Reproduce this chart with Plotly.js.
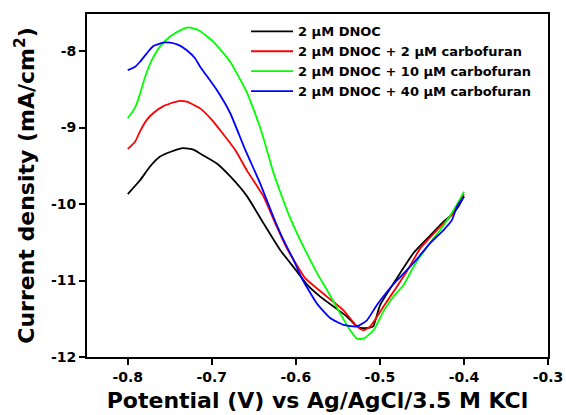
<!DOCTYPE html>
<html>
<head>
<meta charset="utf-8">
<script src="https://cdn.plot.ly/plotly-3.0.1.min.js"></script>
<style>html,body{margin:0;padding:0;background:#fff;}#chart{width:566px;height:415px;}</style>
</head>
<body>
<div id="chart"></div>
<script>
// Series names
const seriesNames = ["2 µM DNOC", "2 µM DNOC + 2 µM carbofuran", "2 µM DNOC + 10 µM carbofuran", "2 µM DNOC + 40 µM carbofuran"];
const seriesColors = ["#000000", "#ff0000", "#00ff00", "#0000ff"];

// Black: 2 µM DNOC
const blackX = [-0.8, -0.7854, -0.7735, -0.7615, -0.7496, -0.7338, -0.7219, -0.7139, -0.694, -0.678, -0.658, -0.6386, -0.6187, -0.5988, -0.587, -0.571, -0.5552, -0.5393, -0.5294, -0.5235, -0.5136, -0.508, -0.4997, -0.4798, -0.46, -0.44, -0.4243, -0.4143, -0.4064, -0.4];
const blackY = [-9.87, -9.69, -9.51, -9.38, -9.32, -9.27, -9.29, -9.34, -9.47, -9.64, -9.90, -10.25, -10.60, -10.88, -11.05, -11.21, -11.34, -11.47, -11.58, -11.62, -11.62, -11.60, -11.32, -10.97, -10.64, -10.41, -10.23, -10.14, -10.03, -9.90];

// Red: + 2 µM carbofuran
const redX = [-0.8, -0.7913, -0.7854, -0.7774, -0.7695, -0.7576, -0.7398, -0.7298, -0.7139, -0.70, -0.6723, -0.6583, -0.6386, -0.6226, -0.6107, -0.5988, -0.589, -0.5631, -0.5433, -0.5274, -0.5195, -0.5115, -0.4957, -0.4798, -0.4679, -0.452, -0.4321, -0.4143, -0.4064, -0.4];
const redY = [-9.28, -9.185, -9.05, -8.90, -8.81, -8.72, -8.654, -8.663, -8.75, -8.90, -9.29, -9.56, -9.90, -10.30, -10.58, -10.80, -10.97, -11.21, -11.39, -11.60, -11.65, -11.60, -11.34, -11.08, -10.88, -10.58, -10.34, -10.14, -9.99, -9.87];

// Green: + 10 µM carbofuran
const greenX = [-0.8, -0.7913, -0.7854, -0.7794, -0.7714, -0.7615, -0.7496, -0.7377, -0.7279, -0.716, -0.698, -0.6782, -0.6583, -0.6508, -0.6425, -0.6345, -0.627, -0.6187, -0.6092, -0.5988, -0.583, -0.5735, -0.5631, -0.5473, -0.5354, -0.5274, -0.5195, -0.5076, -0.4957, -0.4838, -0.4719, -0.46, -0.444, -0.4282, -0.4124, -0.4044, -0.4];
const greenY = [-8.88, -8.74, -8.56, -8.34, -8.12, -7.94, -7.81, -7.73, -7.69, -7.725, -7.88, -8.14, -8.54, -8.75, -9.00, -9.29, -9.58, -9.84, -10.12, -10.38, -10.73, -10.93, -11.12, -11.43, -11.65, -11.76, -11.76, -11.65, -11.40, -11.21, -11.06, -10.82, -10.56, -10.34, -10.08, -9.93, -9.84];

// Blue: + 40 µM carbofuran
const blueX = [-0.8, -0.7913, -0.7854, -0.7774, -0.7695, -0.7576, -0.7496, -0.7398, -0.7298, -0.7199, -0.7139, -0.694, -0.6782, -0.6603, -0.6425, -0.6267, -0.6148, -0.6028, -0.5929, -0.575, -0.5592, -0.5433, -0.5274, -0.5155, -0.5036, -0.4917, -0.4798, -0.4719, -0.456, -0.4401, -0.4243, -0.4143, -0.4084, -0.4];
const blueY = [-8.25, -8.205, -8.14, -8.03, -7.935, -7.89, -7.89, -7.92, -7.99, -8.095, -8.205, -8.51, -8.81, -9.29, -9.73, -10.17, -10.47, -10.73, -10.97, -11.30, -11.49, -11.58, -11.60, -11.52, -11.32, -11.15, -11.00, -10.91, -10.72, -10.51, -10.34, -10.21, -10.035, -9.90];

// Tick labels
const xTickVals = [-0.8, -0.7, -0.6, -0.5, -0.4, -0.3];
const xTickText = ["-0.8", "-0.7", "-0.6", "-0.5", "-0.4", "-0.3"];
const yTickVals = [-12, -11, -10, -9, -8];
const yTickText = ["-12", "-11", "-10", "-9", "-8"];

const xs = [blackX, redX, greenX, blueX];
const ys = [blackY, redY, greenY, blueY];

const traces = xs.map((x, i) => ({
  type: 'scatter', mode: 'lines', x: x, y: ys[i], name: seriesNames[i],
  line: {color: seriesColors[i], width: 1.8, shape: 'spline', smoothing: 0.5}
}));

const fontFam = 'DejaVu Sans, Arial, sans-serif';
const layout = {
  width: 566, height: 415,
  margin: {l: 87, r: 18, t: 14, b: 58},
  paper_bgcolor: '#ffffff', plot_bgcolor: '#ffffff',
  showlegend: true,
  legend: {
    x: 0.345, y: 0.993, xanchor: 'left', yanchor: 'top',
    bgcolor: 'rgba(0,0,0,0)', borderwidth: 0, itemwidth: 42,
    font: {family: fontFam, size: 13, color: '#000', weight: 'bold'},
    tracegroupgap: 0
  },
  xaxis: {
    range: [-0.8485, -0.3], tickvals: xTickVals, ticktext: xTickText,
    ticks: 'outside', ticklen: 6, tickwidth: 2, tickcolor: '#000',
    showline: true, linewidth: 2, linecolor: '#000', mirror: true,
    showgrid: false, zeroline: false,
    tickfont: {family: fontFam, size: 14, color: '#000', weight: 'bold'},
    title: {text: 'Potential (V) vs Ag/AgCl/3.5 M KCl', standoff: 9,
            font: {family: fontFam, size: 22, color: '#000', weight: 'bold'}}
  },
  yaxis: {
    range: [-12, -7.516], tickvals: yTickVals, ticktext: yTickText,
    ticks: 'outside', ticklen: 6, tickwidth: 2, tickcolor: '#000',
    showline: true, linewidth: 2, linecolor: '#000', mirror: true,
    showgrid: false, zeroline: false,
    tickfont: {family: fontFam, size: 14, color: '#000', weight: 'bold'},
    title: {text: 'Current density (mA/cm<sup>2</sup>)', standoff: 10,
            font: {family: fontFam, size: 22, color: '#000', weight: 'bold'}}
  }
};

Plotly.newPlot('chart', traces, layout, {displayModeBar: false, staticPlot: true});
</script>
</body>
</html>
